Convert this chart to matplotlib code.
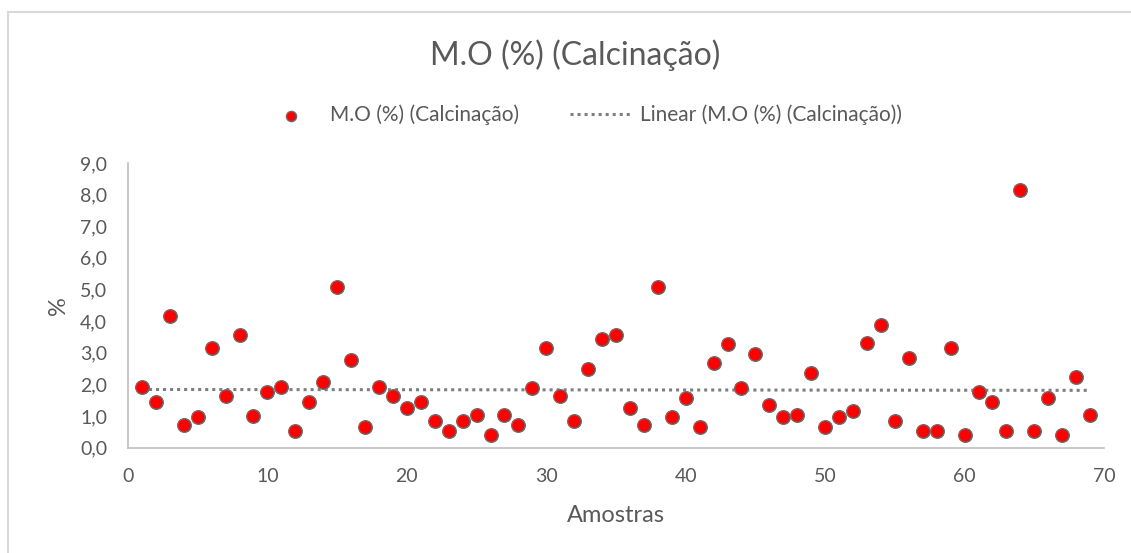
import numpy as np
import matplotlib
matplotlib.use("Agg")
import matplotlib.pyplot as plt
from matplotlib.patches import Rectangle

plt.rcParams['font.family'] = ['Lato', 'DejaVu Sans']

# Sample number and organic matter content (%) by calcination
amostras = list(range(1, 70))
mo_pct = [1.92, 1.44, 4.16, 0.70, 0.95, 3.14, 1.62, 3.56, 1.01, 1.76,
          1.92, 0.53, 1.44, 2.06, 5.07, 2.77, 0.65, 1.92, 1.62, 1.25,
          1.44, 0.85, 0.53, 0.85, 1.02, 0.40, 1.02, 0.70, 1.87, 3.14,
          1.62, 0.85, 2.47, 3.43, 3.56, 1.25, 0.70, 5.07, 0.95, 1.57,
          0.65, 2.66, 3.27, 1.87, 2.97, 1.33, 0.95, 1.02, 2.35, 0.65,
          0.95, 1.14, 3.32, 3.87, 0.85, 2.83, 0.53, 0.53, 3.14, 0.40,
          1.76, 1.44, 0.53, 8.16, 0.53, 1.57, 0.40, 2.23, 1.02]

x_ticks = [0, 10, 20, 30, 40, 50, 60, 70]
y_ticks = [0, 1, 2, 3, 4, 5, 6, 7, 8, 9]

title = "M.O (%) (Calcinação)"
serie_label = "M.O (%) (Calcinação)"
trend_label = "Linear (M.O (%) (Calcinação))"

txt = "#595959"
axis_col = "#bfbfbf"

fig = plt.figure(figsize=(11.31, 5.53), dpi=100)
fig.patch.set_facecolor("white")

# chart-area frame (left and top edges visible)
fig.patches.append(Rectangle((8 / 1131, -0.1), 1.2, (553 - 12) / 553 + 0.1,
                             transform=fig.transFigure, fill=False,
                             edgecolor="#d9d9d9", linewidth=1.5))

ax = fig.add_axes([128 / 1131, (553 - 447.5) / 553,
                   (1104 - 128) / 1131, (447.5 - 163) / 553])

x = np.array(amostras, dtype=float)
y = np.array(mo_pct, dtype=float)

sc = ax.scatter(x, y, s=95, c="#ff0000", edgecolors="#6b6b6b",
                linewidths=1.0, zorder=3, label=serie_label)

# least-squares linear trend
slope, intercept = np.polyfit(x, y, 1)
xt = np.array([x.min(), x.max()])
tl, = ax.plot(xt, slope * xt + intercept, color="#7f7f7f", linewidth=2.2,
              linestyle=(0, (1, 1.3)), zorder=2, label=trend_label)

ax.set_xlim(0, 70)
ax.set_ylim(0, 9)
ax.set_xticks(x_ticks)
ax.set_yticks(y_ticks)
ax.set_xticklabels([str(v) for v in x_ticks])
ax.set_yticklabels([f"{v:.1f}".replace(".", ",") for v in y_ticks])
ax.tick_params(axis="both", length=0, labelsize=14, colors=txt)
ax.tick_params(axis="x", pad=15)
ax.tick_params(axis="y", pad=15)

for side in ("top", "right"):
    ax.spines[side].set_visible(False)
for side in ("left", "bottom"):
    ax.spines[side].set_color(axis_col)
    ax.spines[side].set_linewidth(1.2)

ax.set_xlabel("Amostras", fontsize=17, color=txt, labelpad=14)
ax.set_ylabel("%", fontsize=17, color=txt, labelpad=8)

fig.text(575 / 1131, 1 - 55 / 553, title, ha="center", va="center",
         fontsize=23, color=txt)

leg = fig.legend(handles=[sc, tl], labels=[serie_label, trend_label],
                 loc="center", bbox_to_anchor=(581 / 1131, 1 - 115 / 553),
                 ncol=2, frameon=False, fontsize=15, labelcolor=txt,
                 handlelength=3.0, handletextpad=0.4, columnspacing=2.4,
                 scatterpoints=1, markerscale=0.75)

fig.savefig("out.png", dpi=100, facecolor="white")
